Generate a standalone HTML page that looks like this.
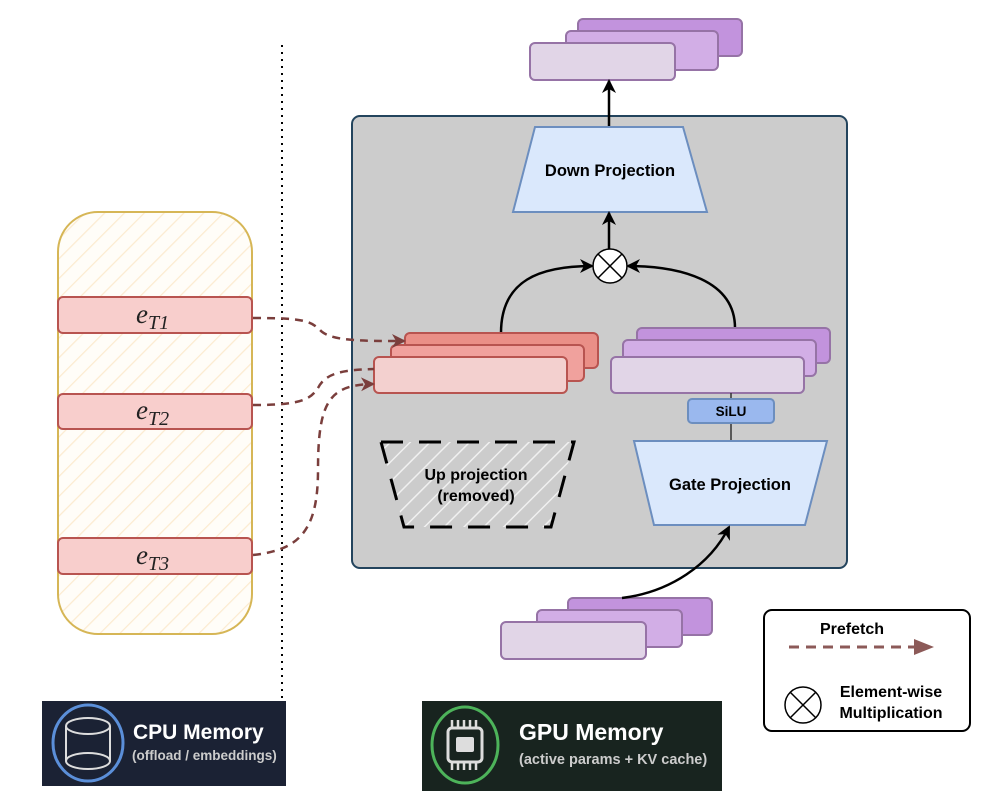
<!DOCTYPE html>
<html><head><meta charset="utf-8"><style>
html,body{margin:0;padding:0;background:#fff;width:1002px;height:802px;overflow:hidden}
svg text{font-family:"Liberation Sans",sans-serif}
</style></head><body>
<svg width="1002" height="802" viewBox="0 0 1002 802" xmlns="http://www.w3.org/2000/svg">
<defs>
<pattern id="hy" patternUnits="userSpaceOnUse" width="14" height="14" patternTransform="rotate(45)">
<rect width="14" height="14" fill="#fffdf8"/><line x1="0" y1="0" x2="0" y2="14" stroke="#fcebd0" stroke-width="2.5"/></pattern>
<pattern id="hw" patternUnits="userSpaceOnUse" width="14" height="14" patternTransform="rotate(45)">
<rect width="14" height="14" fill="#cccccc"/><line x1="0" y1="0" x2="0" y2="14" stroke="#f0f0f0" stroke-width="3"/></pattern>
<marker id="ab" markerWidth="14" markerHeight="14" refX="12" refY="7" orient="auto" markerUnits="userSpaceOnUse"><path d="M0,0 L14,7 L0,14 L4,7z" fill="#000"/></marker>
<marker id="ar" markerWidth="14" markerHeight="14" refX="12" refY="7" orient="auto" markerUnits="userSpaceOnUse"><path d="M0,0 L14,7 L0,14 L4,7z" fill="#7a3e3c"/></marker>
</defs>
<line x1="282" y1="45" x2="282" y2="700" stroke="#000" stroke-width="2" stroke-dasharray="2,5"/>
<rect x="58" y="212" width="194" height="422" rx="40" fill="url(#hy)" stroke="#d6b656" stroke-width="2"/>
<g fill="#f8cecc" stroke="#b85450" stroke-width="2">
<rect x="58" y="297" width="194" height="36" rx="5"/>
<rect x="58" y="394" width="194" height="35" rx="5"/>
<rect x="58" y="538" width="194" height="36" rx="5"/></g>
<g font-style="italic" fill="#222">
<text x="136" y="323" font-size="27" style="font-family:'Liberation Serif',serif">e<tspan font-size="20" dy="6">T1</tspan></text>
<text x="136" y="419" font-size="27" style="font-family:'Liberation Serif',serif">e<tspan font-size="20" dy="6">T2</tspan></text>
<text x="136" y="564" font-size="27" style="font-family:'Liberation Serif',serif">e<tspan font-size="20" dy="6">T3</tspan></text></g>
<rect x="352" y="116" width="495" height="452" rx="8" fill="#cccccc" stroke="#23445d" stroke-width="2"/>
<g stroke="#9673a6" stroke-width="2">
<rect x="578" y="19" width="164" height="37" rx="5" fill="#c293dd"/>
<rect x="566" y="31" width="152" height="39" rx="5" fill="#d2aee6"/>
<rect x="530" y="43" width="145" height="37" rx="5" fill="#e1d5e7"/></g>
<line x1="609" y1="128" x2="609" y2="81" stroke="#000" stroke-width="2.5" marker-end="url(#ab)"/>
<polygon points="535,127 683,127 707,212 513,212" fill="#dae8fc" stroke="#6c8ebf" stroke-width="2"/>
<text x="610" y="176" font-size="16.5" font-weight="bold" text-anchor="middle">Down Projection</text>
<line x1="609" y1="249" x2="609" y2="213" stroke="#000" stroke-width="2.5" marker-end="url(#ab)"/>
<circle cx="610" cy="266" r="17" fill="#fff" stroke="#000" stroke-width="1.5"/>
<path d="M598,254 L622,278 M622,254 L598,278" stroke="#000" stroke-width="1.5"/>
<path d="M501,333 C501,280 540,266 592,266" fill="none" stroke="#000" stroke-width="2.5" marker-end="url(#ab)"/>
<path d="M735,328 C735,280 680,266 628,266" fill="none" stroke="#000" stroke-width="2.5" marker-end="url(#ab)"/>
<g stroke="#b85450" stroke-width="2">
<rect x="405" y="333" width="193" height="35" rx="5" fill="#ea8f87"/>
<rect x="391" y="345" width="193" height="36" rx="5" fill="#f0a19d"/>
<rect x="374" y="357" width="193" height="36" rx="5" fill="#f3d0cf"/></g>
<g stroke="#9673a6" stroke-width="2">
<rect x="637" y="328" width="193" height="35" rx="5" fill="#c293dd"/>
<rect x="623" y="340" width="193" height="36" rx="5" fill="#d2aee6"/>
<rect x="611" y="357" width="193" height="36" rx="5" fill="#e1d5e7"/></g>
<line x1="731" y1="393" x2="731" y2="441" stroke="#333" stroke-width="1.5"/>
<rect x="688" y="399" width="86" height="24" rx="4" fill="#9ab8ee" stroke="#6c8ebf" stroke-width="2"/>
<text x="731" y="416" font-size="13.5" font-weight="bold" text-anchor="middle">SiLU</text>
<polygon points="634,441 827,441 805,525 654,525" fill="#dae8fc" stroke="#6c8ebf" stroke-width="2"/>
<text x="730" y="490" font-size="16.5" font-weight="bold" text-anchor="middle">Gate Projection</text>
<polygon points="381,442 574,442 551,527 404,527" fill="url(#hw)"/>
<polygon points="381,442 574,442 551,527 404,527" fill="none" stroke="#000" stroke-width="3" stroke-dasharray="22,16"/>
<text x="476" y="480" font-size="16" font-weight="bold" text-anchor="middle">Up projection</text>
<text x="476" y="501" font-size="16" font-weight="bold" text-anchor="middle">(removed)</text>
<g fill="none" stroke="#7a3e3c" stroke-width="2.5" stroke-dasharray="8,6">
<path d="M253,318 C300,318 310,320 320,330 C330,341 360,341 404,341" marker-end="url(#ar)"/>
<path d="M253,405 C300,405 310,400 318,388 C326,372 345,370 374,369"/>
<path d="M253,555 C300,550 318,530 318,470 C318,400 330,385 373,384" marker-end="url(#ar)"/></g>
<g stroke="#9673a6" stroke-width="2">
<rect x="568" y="598" width="144" height="37" rx="5" fill="#c293dd"/>
<rect x="537" y="610" width="145" height="37" rx="5" fill="#d2aee6"/>
<rect x="501" y="622" width="145" height="37" rx="5" fill="#e1d5e7"/></g>
<path d="M622,598 C670,592 710,565 729,527" fill="none" stroke="#000" stroke-width="2.5" marker-end="url(#ab)"/>
<rect x="764" y="610" width="206" height="121" rx="8" fill="#fff" stroke="#000" stroke-width="2"/>
<text x="852" y="634" font-size="16" font-weight="bold" text-anchor="middle">Prefetch</text>
<line x1="789" y1="647" x2="918" y2="647" stroke="#8c5a58" stroke-width="3" stroke-dasharray="10,7"/>
<path d="M914,639 L934,647 L914,655z" fill="#8c5a58"/>
<circle cx="803" cy="705" r="18" fill="#fff" stroke="#000" stroke-width="1.5"/>
<path d="M790,692 L816,718 M816,692 L790,718" stroke="#000" stroke-width="1.5"/>
<text x="891" y="697" font-size="16" font-weight="bold" text-anchor="middle">Element-wise</text>
<text x="891" y="718" font-size="16" font-weight="bold" text-anchor="middle">Multiplication</text>
<rect x="42" y="701" width="244" height="85" fill="#1b2234"/>
<ellipse cx="88" cy="743" rx="35" ry="38" fill="none" stroke="#5b8fd9" stroke-width="3"/>
<path d="M66,726 L66,761 M110,726 L110,761" stroke="#ddd" stroke-width="2"/>
<ellipse cx="88" cy="726" rx="22" ry="8" fill="none" stroke="#ddd" stroke-width="2"/>
<ellipse cx="88" cy="761" rx="22" ry="8" fill="none" stroke="#ddd" stroke-width="2"/>
<text x="133" y="739" font-size="21" font-weight="bold" fill="#fff">CPU Memory</text>
<text x="132" y="760" font-size="13.5" font-weight="bold" fill="#ccc">(offload / embeddings)</text>
<rect x="422" y="701" width="300" height="90" fill="#18241f"/>
<ellipse cx="465" cy="745" rx="33" ry="38" fill="none" stroke="#4db35a" stroke-width="3"/>
<rect x="448" y="728" width="34" height="34" rx="4" fill="none" stroke="#ddd" stroke-width="3"/>
<rect x="456" y="737" width="18" height="15" rx="2" fill="#ddd"/>
<path d="M452,720v8 M458,720v8 M464,720v8 M470,720v8 M476,720v8 M452,762v8 M458,762v8 M464,762v8 M470,762v8 M476,762v8" stroke="#ddd" stroke-width="2.5"/>
<text x="519" y="740" font-size="23" font-weight="bold" fill="#fff">GPU Memory</text>
<text x="519" y="764" font-size="14.5" font-weight="bold" fill="#ccc">(active params + KV cache)</text>
</svg>
</body></html>
